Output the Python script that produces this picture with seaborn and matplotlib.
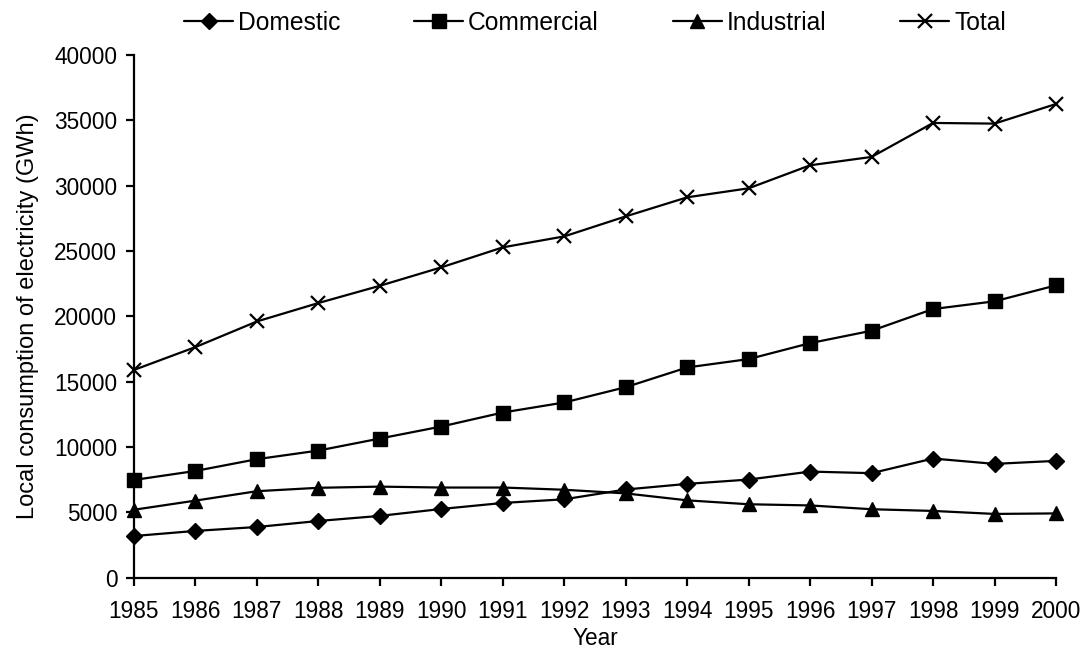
import matplotlib
matplotlib.use("Agg")
import matplotlib.pyplot as plt
import seaborn as sns
import pandas as pd

# Local electricity consumption by sector, GWh
years = list(range(1985, 2001))
domestic = [3190, 3580, 3880, 4340, 4730, 5260, 5720, 6000, 6750, 7180, 7510, 8120, 8000, 9120, 8710, 8940]
commercial = [7480, 8170, 9070, 9730, 10650, 11570, 12640, 13410, 14580, 16090, 16730, 17950, 18900, 20560, 21150, 22370]
industrial = [5200, 5900, 6620, 6880, 6970, 6900, 6900, 6730, 6450, 5920, 5620, 5530, 5240, 5110, 4880, 4920]
total = [15900, 17650, 19610, 21020, 22340, 23750, 25280, 26120, 27650, 29110, 29800, 31560, 32200, 34800, 34750, 36250]

series_names = ["Domestic", "Commercial", "Industrial", "Total"]
series_values = [domestic, commercial, industrial, total]
y_ticks = [0, 5000, 10000, 15000, 20000, 25000, 30000, 35000, 40000]

sns.set_style("ticks")
plt.rcParams["font.family"] = ["Liberation Sans", "DejaVu Sans"]
plt.rcParams["text.color"] = "black"
plt.rcParams["axes.labelcolor"] = "black"

fig = plt.figure(figsize=(10.92, 6.53), dpi=100)
ax = fig.add_axes([134 / 1092, 1 - 577.7 / 653, 922 / 1092, 522.7 / 653])

marker_styles = {
    "Domestic": dict(marker="D", markersize=8.5),
    "Commercial": dict(marker="s", markersize=9.5),
    "Industrial": dict(marker="^", markersize=10.0),
    "Total": dict(marker="x", markersize=10.0, markeredgewidth=1.6),
}

for name, vals in zip(series_names, series_values):
    df = pd.DataFrame({"Year": years, "GWh": vals})
    style = dict(markeredgewidth=1.0)
    style.update(marker_styles[name])
    sns.lineplot(data=df, x="Year", y="GWh", ax=ax, color="black",
                 linewidth=1.6, markeredgecolor="black",
                 markerfacecolor="black", label=name, clip_on=False, **style)

ax.set_xlim(1985, 2000)
ax.set_ylim(0, 40000)
ax.set_xticks(years)
ax.set_xticklabels([str(y) for y in years])
ax.set_yticks(y_ticks)
ax.set_yticklabels([str(v) for v in y_ticks])

for side in ("top", "right"):
    ax.spines[side].set_visible(False)
for side in ("left", "bottom"):
    ax.spines[side].set_linewidth(1.6)
    ax.spines[side].set_color("black")
ax.tick_params(axis="both", direction="out", length=6, width=1.6,
               colors="black", labelsize=16.3)
ax.tick_params(axis="x", pad=10)
ax.tick_params(axis="y", pad=6)

ax.set_xlabel("Year", fontsize=16.3, labelpad=3)
ax.set_ylabel("Local consumption of electricity (GWh)", fontsize=17, labelpad=11)

leg = ax.legend(loc="center", bbox_to_anchor=(0.5, 1 + 32 / 522.7), ncol=4,
                frameon=False, fontsize=17.7, handlelength=2.0,
                handletextpad=0.2, columnspacing=3.0, borderaxespad=0)

fig.savefig("out.png", dpi=100)
